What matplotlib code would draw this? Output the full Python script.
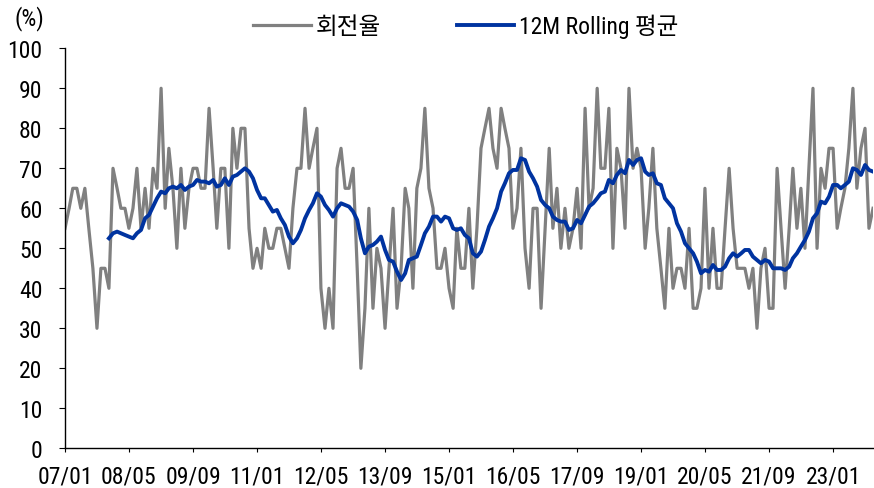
import numpy as np
import pandas as pd
import matplotlib
matplotlib.use("Agg")
import matplotlib.pyplot as plt

# 회전율 (monthly, 2007/01 ~ 2023/11)
turnover = [
    55, 60, 65, 65, 60, 65, 55, 45, 30, 45, 45, 40,
    70, 65, 60, 60, 55, 60, 70, 55, 65, 55, 70, 65,
    90, 60, 75, 65, 50, 70, 55, 65, 70, 70, 65, 65,
    85, 70, 55, 70, 70, 50, 80, 70, 80, 80, 55, 45,
    50, 45, 55, 50, 50, 55, 55, 50, 45, 60, 70, 70,
    85, 70, 75, 80, 40, 30, 40, 30, 70, 75, 65, 65,
    70, 45, 20, 35, 60, 35, 50, 45, 30, 45, 60, 35,
    45, 65, 60, 40, 65, 70, 85, 65, 60, 45, 45, 50,
    40, 35, 55, 45, 45, 60, 40, 55, 75, 80, 85, 75,
    70, 85, 80, 75, 55, 60, 75, 50, 40, 60, 60, 35,
    55, 75, 55, 65, 50, 60, 50, 55, 65, 50, 85, 60,
    65, 90, 70, 70, 85, 50, 75, 70, 55, 90, 70, 75,
    70, 50, 60, 75, 55, 45, 35, 55, 40, 45, 45, 40,
    55, 35, 35, 40, 65, 40, 55, 40, 40, 55, 70, 55,
    45, 45, 45, 40, 45, 30, 45, 50, 35, 35, 70, 55,
    40, 55, 70, 55, 65, 50, 70, 90, 50, 70, 65, 75,
    75, 55, 60, 65, 75, 90, 65, 75, 80, 55, 60,
]
# 12M Rolling 평균 (starts 2007/12)
rolling_avg = [
    52.50, 53.75, 54.17, 53.75, 53.33, 52.92, 52.50, 53.75, 54.58, 57.50, 58.33, 60.42,
    62.50, 64.17, 63.75, 65.00, 65.42, 65.00, 65.83, 64.58, 65.42, 65.83, 67.08, 66.67,
    66.67, 66.25, 67.08, 65.42, 65.83, 67.50, 65.83, 67.92, 68.33, 69.17, 70.00, 69.17,
    67.50, 64.58, 62.50, 62.50, 60.83, 59.17, 59.58, 57.50, 55.83, 52.92, 51.25, 52.50,
    54.58, 57.50, 59.58, 61.25, 63.75, 62.92, 60.83, 59.58, 57.92, 60.00, 61.25, 60.83,
    60.42, 59.17, 57.08, 52.50, 48.75, 50.42, 50.83, 51.67, 52.92, 49.58, 47.08, 46.67,
    44.17, 42.08, 43.75, 47.08, 47.50, 47.92, 50.83, 53.75, 55.42, 57.92, 57.92, 56.67,
    57.92, 57.50, 55.00, 54.58, 55.00, 53.33, 52.50, 48.75, 47.92, 49.17, 52.08, 55.42,
    57.50, 60.00, 64.17, 66.25, 68.75, 69.58, 69.58, 72.50, 72.08, 69.17, 67.50, 65.42,
    62.08, 60.83, 60.00, 57.92, 57.08, 56.67, 56.67, 54.58, 55.00, 57.08, 56.25, 58.33,
    60.42, 61.25, 62.50, 63.75, 64.17, 67.08, 66.25, 68.33, 69.58, 68.75, 72.08, 70.83,
    72.08, 72.50, 69.17, 68.33, 68.75, 66.25, 65.83, 62.50, 61.25, 60.00, 56.25, 54.17,
    51.25, 50.00, 48.75, 46.67, 43.75, 44.58, 44.17, 45.83, 44.58, 44.58, 45.42, 47.50,
    48.75, 47.92, 48.75, 49.58, 49.58, 47.92, 47.08, 46.25, 47.08, 46.67, 45.00, 45.00,
    45.00, 44.58, 45.42, 47.50, 48.75, 50.42, 52.08, 54.17, 57.50, 58.75, 61.67, 61.25,
    62.92, 65.83, 65.83, 65.00, 65.83, 66.67, 70.00, 69.58, 68.33, 70.83, 69.58, 69.17,
]
tick_labels = ["07/01", "08/05", "09/09", "11/01", "12/05", "13/09", "15/01",
               "16/05", "17/09", "19/01", "20/05", "21/09", "23/01"]

dates = pd.date_range("2007-01-01", periods=len(turnover), freq="MS")
roll_dates = dates[len(turnover) - len(rolling_avg):]

plt.rcParams["font.family"] = ["Roboto Condensed", "Noto Sans CJK KR", "DejaVu Sans"]

fig = plt.figure(figsize=(8.74, 4.89), dpi=100)
ax = fig.add_axes([0.0744, 0.0812, 0.9245, 0.818])

ax.plot(dates, turnover, color="#808080", lw=2.3, label="회전율")
ax.plot(roll_dates, rolling_avg, color="#0033a0", lw=2.8, label="12M Rolling 평균")

ax.set_ylim(0, 100)
ax.set_yticks(np.arange(0, 101, 10))
ax.set_xlim(dates[0], dates[-1])
ax.set_xticks(dates[::16])
ax.set_xticklabels(tick_labels)

for s in ["top", "right"]:
    ax.spines[s].set_visible(False)
for s in ["left", "bottom"]:
    ax.spines[s].set_linewidth(1.0)
    ax.spines[s].set_color("black")
ax.tick_params(axis="y", labelsize=17, length=4.3, width=0.8, pad=12, colors="black")
ax.tick_params(axis="x", labelsize=17, length=3, width=0.8, pad=9, colors="black")

fig.text(0.034, 0.963, "(%)", fontsize=17, ha="center", va="center")
fig.legend(loc="center", bbox_to_anchor=(0.533, 0.945), ncol=2, frameon=False,
           fontsize=17, handlelength=2.45, columnspacing=3.2, handletextpad=0.2)

fig.savefig("out.png", dpi=100)
